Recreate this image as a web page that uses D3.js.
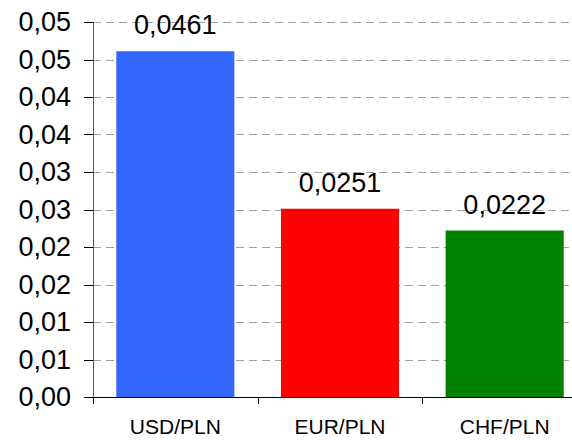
<!DOCTYPE html>
<meta charset="utf-8">
<style>
body { margin: 0; background: #fff; }
text { font-family: "Liberation Sans", Arial, sans-serif; fill: #000; }
.grid line { stroke: #a0a0a0; stroke-dasharray: 8,5; }
</style>
<body>
<script src="https://cdn.jsdelivr.net/npm/d3@7"></script>
<script>

// data
var categories = ["USD/PLN", "EUR/PLN", "CHF/PLN"];
var values = [0.0461, 0.0251, 0.0222];
var valueLabels = ["0,0461", "0,0251", "0,0222"];
var colors = ["#3366ff", "#ff0000", "#008000"];
var yTicks = [0, 0.005, 0.01, 0.015, 0.02, 0.025, 0.03, 0.035, 0.04, 0.045, 0.05];
var yTickLabels = ["0,00", "0,01", "0,01", "0,02", "0,02", "0,03", "0,03", "0,04", "0,04", "0,05", "0,05"];

// plot area (runs off the right edge, like the original)
var margin = {left: 93, top: 22},
    plotW = 494, plotH = 375;

var svg = d3.select("body").append("svg")
    .attr("width", 572)
    .attr("height", 440);

var g = svg.append("g")
    .attr("transform", "translate(" + margin.left + "," + margin.top + ")");

var x = d3.scaleBand().domain(categories).range([0, plotW]).paddingInner(0.283).paddingOuter(0.1415);
var xTicks = d3.scaleBand().domain(categories).range([0, plotW]);
var y = d3.scaleLinear().domain([0, 0.05]).range([plotH, 0]);

// dashed gridlines
g.append("g").attr("class", "grid")
  .selectAll("line")
  .data(yTicks.slice(1))
  .enter().append("line")
    .attr("x1", 0)
    .attr("x2", 572 - margin.left)
    .attr("y1", function(d) { return Math.round(y(d)) + 0.5; })
    .attr("y2", function(d) { return Math.round(y(d)) + 0.5; });

// bars
g.selectAll(".bar")
  .data(values)
  .enter().append("rect")
    .attr("class", "bar")
    .attr("x", function(d, i) { return x(categories[i]); })
    .attr("width", x.bandwidth())
    .attr("y", function(d) { return y(d); })
    .attr("height", function(d) { return plotH - y(d); })
    .attr("fill", function(d, i) { return colors[i]; });

// value labels
g.selectAll(".vlabel")
  .data(values)
  .enter().append("text")
    .attr("class", "vlabel")
    .attr("x", function(d, i) { return x(categories[i]) + x.bandwidth() / 2; })
    .attr("y", function(d) { return y(d) - 17; })
    .attr("text-anchor", "middle")
    .style("font-size", "27px")
    .text(function(d, i) { return valueLabels[i]; });

// y axis
var yAxis = g.append("g");
yAxis.append("line")
    .attr("x1", 0.5).attr("x2", 0.5)
    .attr("y1", 0).attr("y2", plotH)
    .attr("stroke", "#555");
yAxis.selectAll(".ytick")
  .data(yTicks)
  .enter().append("line")
    .attr("x1", -9).attr("x2", 0)
    .attr("y1", function(d) { return Math.round(y(d)) + 0.5; })
    .attr("y2", function(d) { return Math.round(y(d)) + 0.5; })
    .attr("stroke", "#000");
yAxis.selectAll(".ylabel")
  .data(yTicks)
  .enter().append("text")
    .attr("x", -22)
    .attr("y", function(d) { return y(d); })
    .attr("dy", "0.35em")
    .attr("text-anchor", "end")
    .style("font-size", "27px")
    .text(function(d, i) { return yTickLabels[i]; });

// x axis
var xAxis = g.append("g").attr("transform", "translate(0," + plotH + ")");
xAxis.append("line")
    .attr("x1", 0).attr("x2", 572 - margin.left)
    .attr("y1", 0.5).attr("y2", 0.5)
    .attr("stroke", "#000");
xAxis.selectAll(".xtick")
  .data(categories)
  .enter().append("line")
    .attr("x1", function(d) { return Math.round(xTicks(d)) + 0.5; })
    .attr("x2", function(d) { return Math.round(xTicks(d)) + 0.5; })
    .attr("y1", 0).attr("y2", 7)
    .attr("stroke", "#000");
xAxis.selectAll(".xlabel")
  .data(categories)
  .enter().append("text")
    .attr("x", function(d) { return xTicks(d) + xTicks.bandwidth() / 2; })
    .attr("y", 37)
    .attr("text-anchor", "middle")
    .style("font-size", "21px")
    .text(function(d) { return d; });

</script>
</body>
